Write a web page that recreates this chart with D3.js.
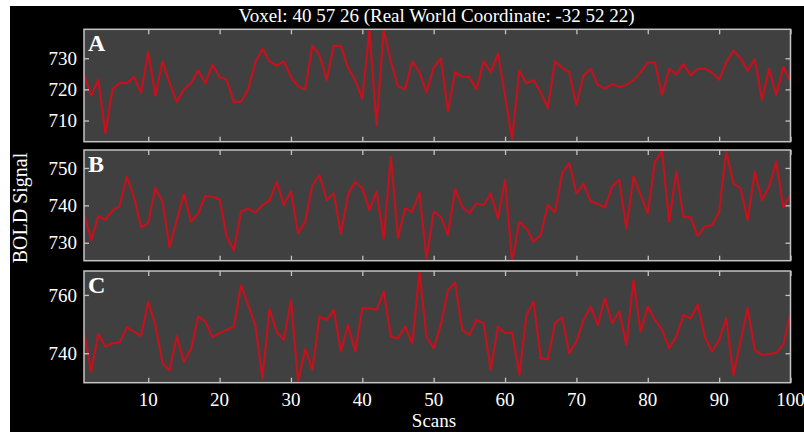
<!DOCTYPE html>
<html>
<head>
<meta charset="utf-8">
<script src="https://cdn.jsdelivr.net/npm/d3@7"></script>
<style>
  body { margin: 0; background: #fff; }
  svg { display: block; }
</style>
</head>
<body>
<svg id="chart"></svg>
<script>
const width = 804;
const height = 432;

// BOLD signal per scan
const scans = d3.range(1, 101);

const voxelA = [
  725, 718, 723, 706, 720, 722, 722, 724, 719, 732,
  718, 729, 722, 716, 720, 722, 726, 722, 728, 724,
  723, 716, 716, 720, 728.6, 733, 729, 727.6, 729, 724,
  721, 720, 734, 731, 723, 734, 734, 727, 723, 717,
  739, 708.5, 739, 729, 721, 720, 729, 725.5, 719, 727,
  730, 713, 725.5, 724, 724, 720, 729, 725.5, 731.5, 718,
  704, 726, 722, 723, 719, 714, 729, 727, 725.5, 715,
  724.5, 726.6, 721.4, 720.3, 721.7, 720.8, 721.4, 723, 725.5, 728.6,
  728.6, 718.2, 726.6, 724.8, 728.1, 724.5, 726.6, 726.6, 725.5, 723.1,
  728.6, 732.5, 730, 726, 729.7, 716.7, 726.6, 718.2, 727.3, 722.4
];

const voxelB = [
  737.9, 730.7, 737.1, 736.1, 738.6, 739.8, 747.7, 742.3, 734.1, 735.2,
  744.6, 741, 728.8, 736, 743, 735.6, 737.9, 742.5, 742.3, 741.6,
  731.6, 728, 738.3, 739.2, 738, 740, 741.3, 746.3, 740.1, 743.7,
  732.5, 735.6, 745.4, 748.1, 741.4, 743.2, 732.5, 742.8, 746.3, 744.6,
  738.8, 743.7, 731.2, 753, 731.2, 739.2, 738.3, 743.4, 725.8, 738.3,
  737, 732.1, 744.3, 739.6, 737.9, 740.5, 740.1, 743.2, 736.5, 746.8,
  725, 735.6, 733.8, 730.3, 732.1, 740.1, 738, 748.6, 751.3, 743.2,
  745.7, 741, 740.4, 739.4, 745, 746.8, 733.8, 747.7, 742.8, 737.9,
  751.7, 754.4, 735.6, 749, 737, 736.8, 731.8, 734.3, 734.7, 738.3,
  754.4, 745.9, 744.6, 736.1, 749, 741.4, 745, 751.7, 739.6, 742.8
];

const voxelC = [
  747.4, 733.7, 746.6, 742.3, 743.4, 743.7, 748.9, 747.4, 745.9, 757.7,
  749.7, 736.6, 734.1, 745.9, 737.1, 741.4, 752.6, 750.9, 745.5, 746.9,
  748, 749.1, 763.4, 756.6, 749.7, 731.4, 755.1, 747.4, 744.6, 758.3,
  730.3, 741.4, 734.3, 752.6, 751.4, 754.9, 740.6, 749.7, 740.6, 755.4,
  755.4, 754.9, 761.1, 745.7, 745.1, 749.1, 743.4, 767.7, 745.7, 741.7,
  749.7, 761.7, 764.2, 748, 746.3, 751.4, 750.3, 734.3, 749.1, 746.9,
  747.1, 732.6, 753.1, 757.7, 738.3, 737.9, 750.3, 752.3, 740, 744,
  751.4, 756, 749.7, 758.9, 750.3, 754.3, 742.9, 764.9, 747.4, 756,
  751.4, 748, 741.7, 745.7, 753.1, 752, 756.6, 745.7, 740.6, 744.6,
  752, 732.6, 744, 755.4, 741.1, 739.4, 739.7, 740.2, 742.9, 753.7
];

const xTicks = [10, 20, 30, 40, 50, 60, 70, 80, 90, 100];
const panelLabels = ["A", "B", "C"];
const yDomains = [[703.2, 739.3], [725.2, 754.8], [729.9, 768.2]];
const yTicks = [[710, 720, 730], [730, 740, 750], [740, 760]];

const titleText = "Voxel: 40 57 26 (Real World Coordinate: -32 52 22)";

const serif = "'Liberation Serif', 'DejaVu Serif', serif";
const frameColor = "#c4c4c4";
const lineColor = "#c3121d";

const svg = d3.select("#chart")
  .attr("width", width)
  .attr("height", height);

// black figure area (the reference has a thin white margin top and left)
svg.append("rect")
  .attr("x", 10)
  .attr("y", 6)
  .attr("width", width - 10)
  .attr("height", height - 6)
  .attr("fill", "#000");

const x = d3.scaleLinear().domain([1, 100]).range([84, 790.5]);

const panels = [
  { top: 29.3, bottom: 141.7, values: voxelA },
  { top: 150, bottom: 260.7, values: voxelB },
  { top: 271, bottom: 382.7, values: voxelC }
];

panels.forEach((p, i) => {
  const y = d3.scaleLinear().domain(yDomains[i]).range([p.bottom, p.top]);
  const g = svg.append("g");

  g.append("rect")
    .attr("x", x.range()[0])
    .attr("y", p.top)
    .attr("width", x.range()[1] - x.range()[0])
    .attr("height", p.bottom - p.top)
    .attr("fill", "#404040");

  const clipId = "clip" + i;
  g.append("clipPath").attr("id", clipId)
    .append("rect")
    .attr("x", x.range()[0])
    .attr("y", p.top)
    .attr("width", x.range()[1] - x.range()[0])
    .attr("height", p.bottom - p.top);

  const line = d3.line()
    .x((d, k) => x(scans[k]))
    .y(d => y(d));

  g.append("path")
    .datum(p.values)
    .attr("clip-path", `url(#${clipId})`)
    .attr("d", line)
    .attr("fill", "none")
    .attr("stroke", lineColor)
    .attr("stroke-width", 2.2)
    .attr("stroke-linejoin", "round");

  // ticks point inward on all four sides
  const tickSize = 5;
  const bottomAxis = d3.axisBottom(x).tickValues(xTicks).tickSize(-tickSize).tickFormat("");
  const topAxis = d3.axisTop(x).tickValues(xTicks).tickSize(-tickSize).tickFormat("");
  const leftAxis = d3.axisLeft(y).tickValues(yTicks[i]).tickSize(-tickSize).tickPadding(7);
  const rightAxis = d3.axisRight(y).tickValues(yTicks[i]).tickSize(-tickSize).tickFormat("");

  const axes = [
    g.append("g").attr("transform", `translate(0,${p.bottom})`).call(bottomAxis),
    g.append("g").attr("transform", `translate(0,${p.top})`).call(topAxis),
    g.append("g").attr("transform", `translate(${x.range()[0]},0)`).call(leftAxis),
    g.append("g").attr("transform", `translate(${x.range()[1]},0)`).call(rightAxis)
  ];
  axes.forEach(a => {
    a.select(".domain").remove();
    a.selectAll(".tick line").attr("stroke", frameColor).attr("stroke-width", 1.3);
    a.selectAll("text")
      .attr("fill", "#fff")
      .attr("font-family", serif)
      .attr("font-size", "19px");
  });

  g.append("rect")
    .attr("x", x.range()[0])
    .attr("y", p.top)
    .attr("width", x.range()[1] - x.range()[0])
    .attr("height", p.bottom - p.top)
    .attr("fill", "none")
    .attr("stroke", frameColor)
    .attr("stroke-width", 1.5);

  g.append("text")
    .attr("x", x.range()[0] + 4)
    .attr("y", p.top + 22)
    .attr("fill", "#fff")
    .attr("font-family", serif)
    .attr("font-weight", "bold")
    .attr("font-size", "24px")
    .text(panelLabels[i]);

  // scan numbers only under the last panel
  if (i === panels.length - 1) {
    svg.append("g")
      .selectAll("text")
      .data(xTicks)
      .join("text")
      .attr("x", d => x(d))
      .attr("y", 406)
      .attr("text-anchor", "middle")
      .attr("fill", "#fff")
      .attr("font-family", serif)
      .attr("font-size", "19px")
      .text(d => d);
  }
});

svg.append("text")
  .attr("x", 436.5)
  .attr("y", 22)
  .attr("text-anchor", "middle")
  .attr("fill", "#fff")
  .attr("font-family", serif)
  .attr("font-size", "19px")
  .text(titleText);

svg.append("text")
  .attr("x", 434)
  .attr("y", 427)
  .attr("text-anchor", "middle")
  .attr("fill", "#fff")
  .attr("font-family", serif)
  .attr("font-size", "19px")
  .text("Scans");

svg.append("text")
  .attr("transform", "translate(27,208) rotate(-90)")
  .attr("text-anchor", "middle")
  .attr("fill", "#fff")
  .attr("font-family", serif)
  .attr("font-size", "20px")
  .text("BOLD Signal");
</script>
</body>
</html>
